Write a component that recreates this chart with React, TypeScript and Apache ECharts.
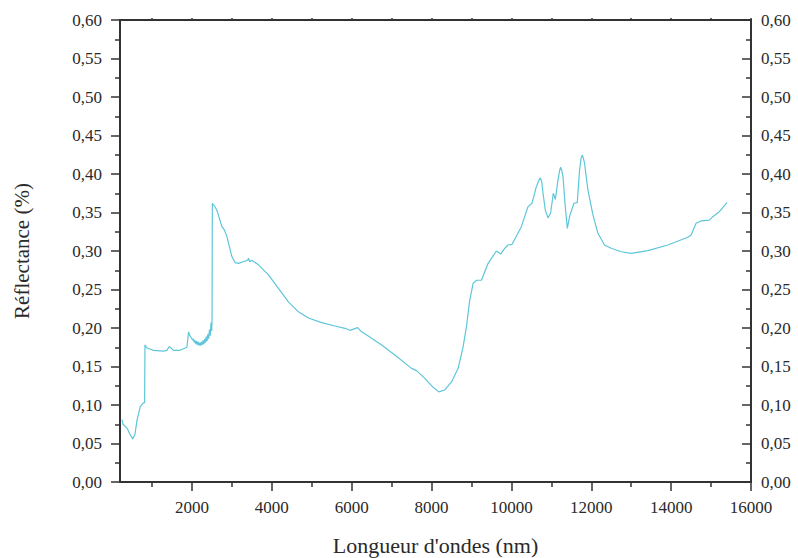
import React, { useEffect, useRef } from "react";
import * as echarts from "echarts";

const wavelengths: number[] = [
  250, 275, 375, 450, 517, 575, 625, 707, 792, 817,
  825, 875, 1042, 1292, 1375, 1432, 1542, 1707, 1832, 1875,
  1917, 1950, 1990, 2020, 2040, 2060, 2080, 2100, 2120, 2140,
  2160, 2180, 2200, 2220, 2240, 2260, 2280, 2300, 2320, 2340,
  2360, 2380, 2400, 2420, 2440, 2460, 2480, 2495, 2505, 2512,
  2560, 2625, 2750, 2817, 2875, 3000, 3082, 3167, 3332, 3400,
  3417, 3450, 3500, 3667, 3917, 4167, 4417, 4667, 4917, 5250,
  5582, 5832, 5957, 6150, 6250, 6417, 6750, 7082, 7500, 7625,
  7832, 8042, 8182, 8332, 8500, 8667, 8792, 8875, 8957, 9042,
  9125, 9250, 9417, 9625, 9732, 9832, 9917, 10017, 10250, 10417,
  10517, 10625, 10690, 10725, 10760, 10792, 10850, 10917, 10982, 11050,
  11100, 11167, 11210, 11232, 11260, 11292, 11350, 11400, 11467, 11567,
  11650, 11707, 11745, 11775, 11805, 11832, 11917, 12042, 12167, 12332,
  12500, 12750, 13000, 13417, 13917, 14417, 14500, 14625, 14750, 14957,
  15042, 15207, 15400,
];

const reflectance: number[] = [
  0.081, 0.075, 0.07, 0.062, 0.056, 0.062, 0.08, 0.098, 0.103, 0.103,
  0.178, 0.174, 0.171, 0.17, 0.171, 0.176, 0.171, 0.171, 0.174, 0.175,
  0.195, 0.19, 0.187, 0.184, 0.186, 0.181, 0.184, 0.179, 0.183, 0.178,
  0.182, 0.177, 0.181, 0.177, 0.182, 0.178, 0.184, 0.179, 0.186, 0.181,
  0.189, 0.183, 0.192, 0.186, 0.198, 0.19, 0.207, 0.196, 0.209, 0.362,
  0.359, 0.353, 0.332, 0.327, 0.319, 0.293, 0.285, 0.284, 0.287, 0.288,
  0.2905, 0.286, 0.288, 0.282, 0.269, 0.2515, 0.234, 0.221, 0.213, 0.207,
  0.2026, 0.1996, 0.197, 0.2004, 0.195, 0.1896, 0.178, 0.165, 0.1476, 0.1446,
  0.1346, 0.123, 0.117, 0.1195, 0.13, 0.1476, 0.1757, 0.2017, 0.236, 0.258,
  0.262, 0.262, 0.284, 0.3, 0.296, 0.3035, 0.3078, 0.3087, 0.3316, 0.3576,
  0.362, 0.3835, 0.392, 0.395, 0.39, 0.375, 0.353, 0.343, 0.349, 0.375,
  0.367, 0.392, 0.405, 0.4087, 0.405, 0.3965, 0.3575, 0.3294, 0.3468, 0.362,
  0.3628, 0.405, 0.42, 0.4247, 0.42, 0.414, 0.379, 0.3468, 0.323, 0.3078,
  0.3035, 0.299, 0.297, 0.3004, 0.3078, 0.3178, 0.3208, 0.336, 0.339, 0.34,
  0.3446, 0.351, 0.3628,
];

const xLabelValues: number[] = [2000, 4000, 6000, 8000, 10000, 12000, 14000, 16000];
const xMinorValues: number[] = [1000, 3000, 5000, 7000, 9000, 11000, 13000, 15000];
const xTopValues: number[] = [
  1000, 2000, 3000, 4000, 5000, 6000, 7000, 8000, 9000, 10000, 11000, 12000, 13000, 14000, 15000, 16000,
];

const FONT = "Liberation Serif";
const AXIS_COLOR = "#333333";
const TEXT_COLOR = "#2a2a2a";
const LINE_COLOR = "#5ec6d9";

export default function App() {
  const ref = useRef<HTMLDivElement>(null);

  useEffect(() => {
    if (!ref.current) return;
    const chart = echarts.init(ref.current, undefined, { renderer: "svg" });
    const data = wavelengths.map((w, i) => [w, reflectance[i]]);
    const yFmt = (v: number) => v.toFixed(2).replace(".", ",");

    const baseX = {
      type: "value" as const,
      min: 200,
      max: 16000,
      splitLine: { show: false },
    };

    chart.setOption({
      animation: false,
      textStyle: { fontFamily: FONT },
      grid: {
        left: 120,
        right: 47,
        top: 20,
        bottom: 76,
        containLabel: false,
        outerBoundsMode: "none",
      },
      xAxis: [
        {
          ...baseX,
          position: "bottom",
          axisLine: { show: true, lineStyle: { color: AXIS_COLOR, width: 2 } },
          axisTick: {
            show: true,
            customValues: xLabelValues,
            length: 9,
            lineStyle: { color: AXIS_COLOR, width: 1.5 },
          },
          axisLabel: {
            customValues: xLabelValues,
            formatter: (v: number) => String(v),
            fontFamily: FONT,
            fontSize: 17,
            color: TEXT_COLOR,
            margin: 17,
          },
          name: "Longueur d'ondes (nm)",
          nameLocation: "middle",
          nameGap: 52,
          nameTextStyle: { fontFamily: FONT, fontSize: 22, color: TEXT_COLOR },
        },
        {
          ...baseX,
          position: "bottom",
          axisLine: { show: false },
          axisTick: {
            show: true,
            customValues: xMinorValues,
            length: 5,
            lineStyle: { color: AXIS_COLOR, width: 1.5 },
          },
          axisLabel: { show: false },
        },
        {
          ...baseX,
          position: "top",
          axisLine: { show: true, lineStyle: { color: AXIS_COLOR, width: 2 } },
          axisTick: {
            show: true,
            customValues: xTopValues,
            length: 2,
            lineStyle: { color: AXIS_COLOR, width: 1.5 },
          },
          axisLabel: { show: false },
        },
      ],
      yAxis: [
        {
          type: "value",
          position: "left",
          min: 0,
          max: 0.6,
          interval: 0.05,
          splitLine: { show: false },
          axisLine: { show: true, lineStyle: { color: AXIS_COLOR, width: 2 } },
          axisTick: { show: true, length: 9, lineStyle: { color: AXIS_COLOR, width: 1.5 } },
          minorTick: { show: true, splitNumber: 2, length: 5, lineStyle: { color: AXIS_COLOR, width: 1.5 } },
          axisLabel: {
            formatter: yFmt,
            fontFamily: FONT,
            fontSize: 17,
            color: TEXT_COLOR,
            margin: 18,
          },
          name: "Réflectance (%)",
          nameLocation: "middle",
          nameGap: 88,
          nameTextStyle: { fontFamily: FONT, fontSize: 21, color: TEXT_COLOR },
        },
        {
          type: "value",
          position: "right",
          min: 0,
          max: 0.6,
          interval: 0.05,
          splitLine: { show: false },
          axisLine: { show: true, lineStyle: { color: AXIS_COLOR, width: 2 } },
          axisTick: { show: true, inside: true, length: 9, lineStyle: { color: AXIS_COLOR, width: 1.5 } },
          minorTick: { show: true, splitNumber: 2, length: 5, lineStyle: { color: AXIS_COLOR, width: 1.5 } },
          axisLabel: {
            formatter: yFmt,
            fontFamily: FONT,
            fontSize: 17,
            color: TEXT_COLOR,
            margin: 10,
          },
        },
      ],
      series: [
        {
          type: "line",
          xAxisIndex: 0,
          yAxisIndex: 0,
          data,
          showSymbol: false,
          symbol: "none",
          lineStyle: { color: LINE_COLOR, width: 1.2 },
          itemStyle: { color: LINE_COLOR },
        },
      ],
    });

    return () => chart.dispose();
  }, []);

  return (
    <div
      ref={ref}
      style={{ position: "absolute", left: 0, top: 0, width: 798, height: 558 }}
    />
  );
}
